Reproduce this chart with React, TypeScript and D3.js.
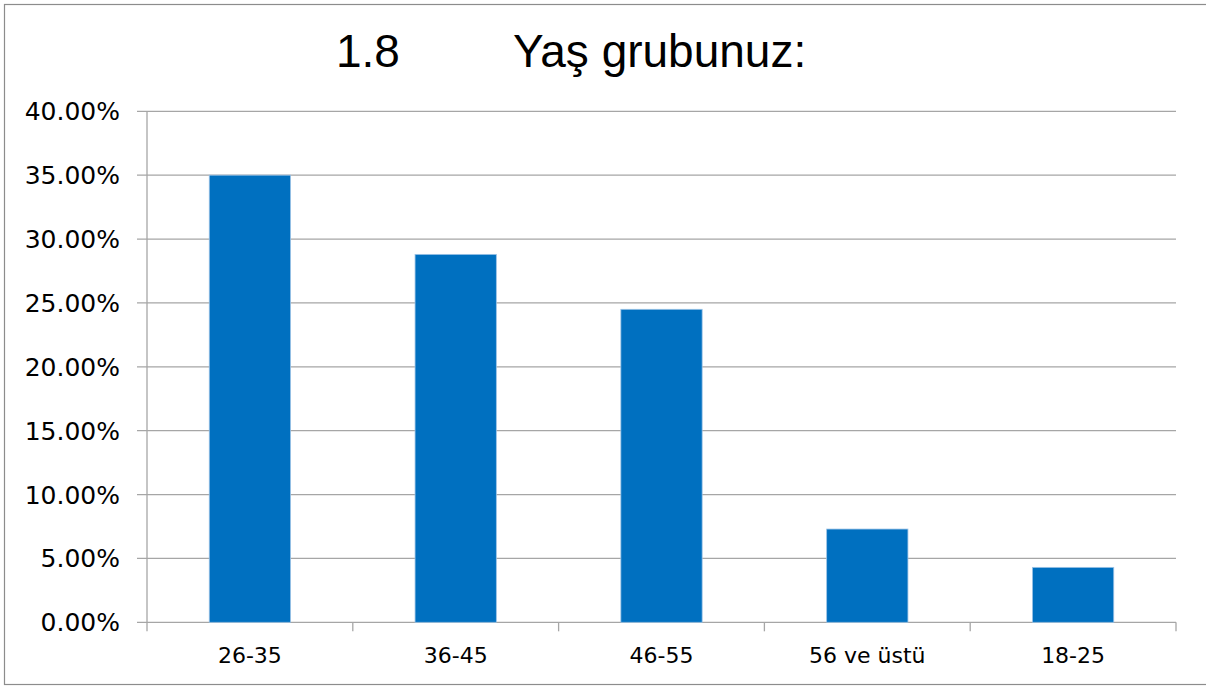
import React from 'react';
import * as d3 from 'd3';

// age groups, share of respondents (%)
const categories = ['26-35', '36-45', '46-55', '56 ve üstü', '18-25'];
const shares = [35.0, 28.8, 24.5, 7.3, 4.3];
const yTicks = [0, 5, 10, 15, 20, 25, 30, 35, 40];
const titleNumber = '1.8';
const titleText = 'Yaş grubunuz:';

const W = 1206;
const H = 686;
const plot = { left: 147, right: 1176, top: 111.3, bottom: 622.3 };

export default function App() {
  const x = d3
    .scaleBand<string>()
    .domain(categories)
    .range([plot.left, plot.right])
    .paddingInner(0.605)
    .paddingOuter(0.3025);

  const xEdges = d3
    .scaleLinear()
    .domain([0, categories.length])
    .range([plot.left, plot.right]);

  const y = d3.scaleLinear().domain([0, 40]).range([plot.bottom, plot.top]);

  const gridColor = '#a6a6a6';
  const axisFont = '"DejaVu Sans", Verdana, sans-serif';

  return (
    <svg
      width={W}
      height={H}
      style={{ position: 'absolute', left: 0, top: 0, background: '#fff' }}
    >
      <rect x={4.5} y={4.5} width={W + 10} height={680} fill="#fff" stroke="#8c8c8c" strokeWidth={1.2} />

      <text
        y={67}
        fontFamily='"Liberation Sans", Arial, sans-serif'
        fontSize={46}
        fill="#000"
      >
        <tspan x={336}>{titleNumber}</tspan>
        <tspan x={513}>{titleText}</tspan>
      </text>

      {/* gridlines + y labels */}
      {yTicks.map((t) => (
        <g key={t}>
          <line
            x1={137}
            x2={plot.right}
            y1={y(t)}
            y2={y(t)}
            stroke={gridColor}
            strokeWidth={1.3}
          />
          <text
            x={120}
            y={y(t)}
            dy="0.36em"
            textAnchor="end"
            fontFamily={axisFont}
            fontSize={25}
            fill="#000"
          >
            {d3.format('.2f')(t)}%
          </text>
        </g>
      ))}

      {/* y axis line */}
      <line x1={plot.left} x2={plot.left} y1={plot.top} y2={plot.bottom} stroke={gridColor} strokeWidth={1.3} />

      {/* category ticks */}
      {d3.range(categories.length + 1).map((i) => (
        <line
          key={i}
          x1={xEdges(i)}
          x2={xEdges(i)}
          y1={plot.bottom}
          y2={plot.bottom + 9}
          stroke={gridColor}
          strokeWidth={1.3}
        />
      ))}

      {/* bars */}
      {categories.map((c, i) => (
        <rect
          key={c}
          x={x(c)}
          y={y(shares[i])}
          width={x.bandwidth()}
          height={y(0) - y(shares[i])}
          fill="#0070c0"
          stroke="#9cc3e6"
          strokeWidth={0.8}
        />
      ))}

      {/* x labels */}
      {categories.map((c) => (
        <text
          key={c}
          x={(x(c) ?? 0) + x.bandwidth() / 2}
          y={663}
          textAnchor="middle"
          fontFamily={axisFont}
          fontSize={22}
          fill="#000"
        >
          {c}
        </text>
      ))}
    </svg>
  );
}
